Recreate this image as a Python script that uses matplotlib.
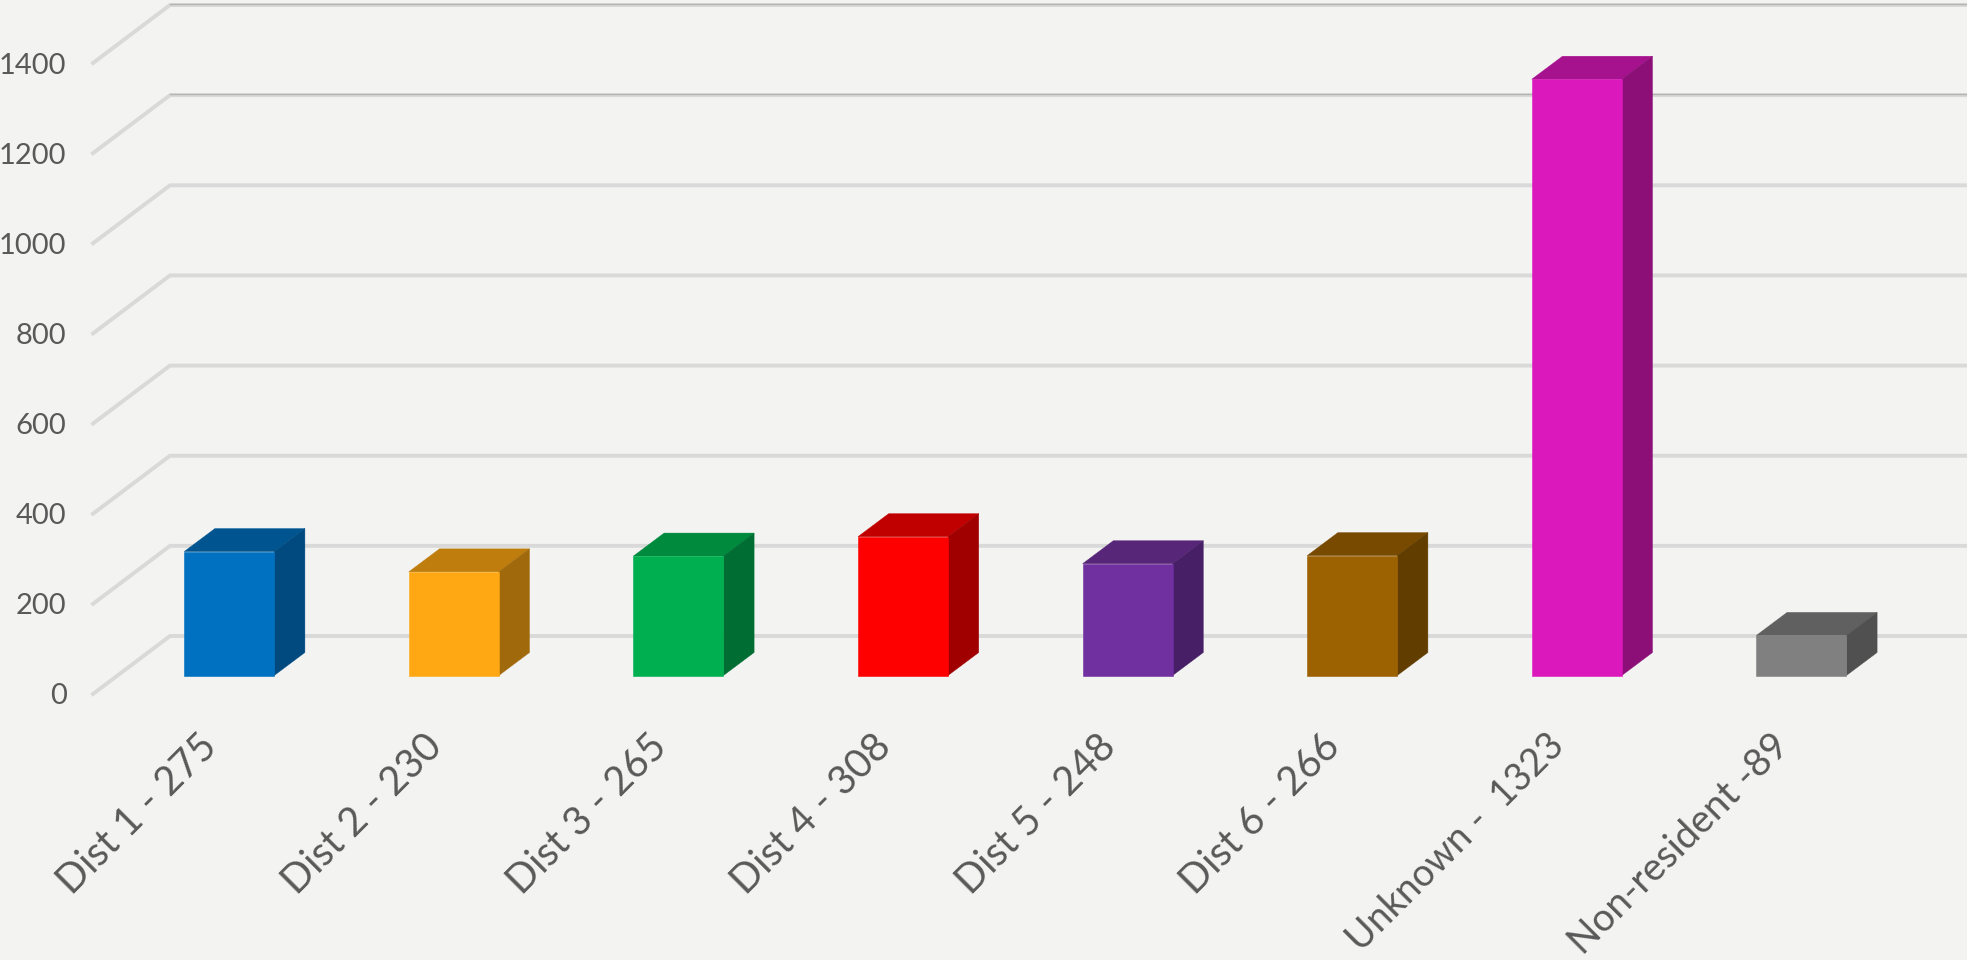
import matplotlib.pyplot as plt
from matplotlib.transforms import ScaledTranslation

categories = ["Dist 1 - 275", "Dist 2 - 230", "Dist 3 - 265", "Dist 4 - 308",
              "Dist 5 - 248", "Dist 6 - 266", "Unknown -  1323", "Non-resident -89"]
values = [275, 230, 265, 308, 248, 266, 1323, 89]
y_ticks = [0, 200, 400, 600, 800, 1000, 1200, 1400]

front_colors = ["#0070C0", "#FFA814", "#00B050", "#FF0000", "#7030A0", "#9C6100", "#DB18BC", "#808080"]
top_colors = ["#005490", "#BF7D0E", "#008A3E", "#C00000", "#582678", "#784A00", "#A6128E", "#606060"]
side_colors = ["#004A80", "#A0690B", "#006E32", "#A00000", "#471F66", "#623D00", "#8B0F77", "#505050"]

W, H = 1967, 960
PX_PER_CAT = 224.6
PX_PER_UNIT = 0.4507
LEFT_PX, BASE_PX = 93, 694
FIRST_BAR_PX = 229.2


def xpx(px):
    return px / PX_PER_CAT


def ypx(px):
    return px / PX_PER_UNIT


bg = "#F3F3F2"
plt.rcParams["font.family"] = ["Lato", "DejaVu Sans"]

fig = plt.figure(figsize=(W / 100, H / 100), dpi=100, facecolor=bg)
ax = fig.add_axes([LEFT_PX / W, (H - BASE_PX) / H, (W - LEFT_PX) / W, BASE_PX / H])
ax.set_facecolor(bg)
ax.set_xlim((LEFT_PX - FIRST_BAR_PX) / PX_PER_CAT, (W - FIRST_BAR_PX) / PX_PER_CAT)
ax.set_ylim(0, ypx(BASE_PX))
for s in ax.spines.values():
    s.set_visible(False)

# walls: floor runs back and up from the tick ends
x0, x1 = ax.get_xlim()
wall_dx, wall_dy = xpx(77), ypx(58)
for t in y_ticks:
    ax.plot([x0, x0 + wall_dx, x1], [t, t + wall_dy, t + wall_dy], color="#D9D9D9", lw=2.8,
            solid_joinstyle="miter", zorder=1, clip_on=False)
    if t >= 1200:
        ax.plot([x0 + wall_dx, x1], [t + wall_dy + ypx(1), t + wall_dy + ypx(1)], color="#B4B4B2", lw=1, zorder=1)

# bars stand a little behind the front edge of the floor
bar_floor = ypx(18.5)
bar_w = xpx(90)
dx, dy = xpx(30.7), ypx(23)
for i, v in enumerate(values):
    left, right = i - bar_w / 2, i + bar_w / 2
    b = bar_floor
    t = bar_floor + v
    ax.fill([left, left + dx, right + dx, right], [t, t + dy, t + dy, t],
            color=top_colors[i], lw=0.3, zorder=3)
    ax.fill([right, right + dx, right + dx, right], [b, b + dy, t + dy, t],
            color=side_colors[i], lw=0.3, zorder=3)
    ax.bar(i, v, width=bar_w, bottom=bar_floor, color=front_colors[i],
           edgecolor=front_colors[i], linewidth=0.4, zorder=4)

ax.set_yticks(y_ticks)
ax.set_yticklabels([str(t) for t in y_ticks])
ax.set_xticks(range(len(categories)))
ax.set_xticklabels(categories, rotation=45, ha="right", rotation_mode="anchor")
ax.tick_params(axis="y", length=0, pad=19, labelsize=21, labelcolor="#595959")
ax.tick_params(axis="x", length=0, pad=24, labelsize=28.5, labelcolor="#595959")

# labels sit left of the tick position in the original
shift = ScaledTranslation(-0.31, 0.0, fig.dpi_scale_trans)
for lab in ax.get_xticklabels():
    lab.set_transform(lab.get_transform() + shift)
# the two long ones have to fit above the bottom edge
labs = ax.get_xticklabels()
labs[-2].set_fontsize(27)
labs[-1].set_fontsize(27.8)

fig.savefig("out.png", dpi=100, facecolor=bg)
